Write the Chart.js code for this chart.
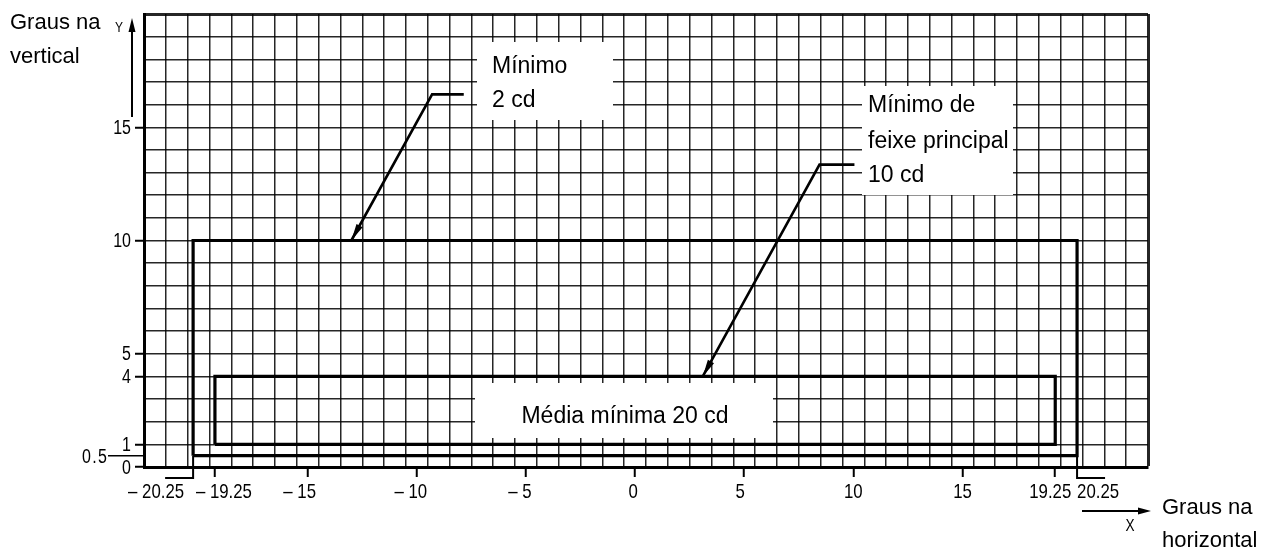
<!DOCTYPE html>
<html>
<head>
<meta charset="utf-8">
<script src="https://cdn.jsdelivr.net/npm/chart.js@4/dist/chart.umd.min.js"></script>
<style>
  html, body { margin: 0; padding: 0; background: #fff; }
  #wrap { width: 1275px; height: 549px; position: relative; }
</style>
</head>
<body>
<div id="wrap"><canvas id="chart"></canvas></div>
<script>
// axis ranges (degrees)
const xRange = [-22.5, 23.5];
const yRange = [0, 20];

// tick labels
const xTickValues = [-20.25, -19.25, -15, -10, -5, 0, 5, 10, 15, 19.25, 20.25];
const xTickLabels = ['– 20.25', '– 19.25', '– 15', '– 10', '– 5', '0', '5', '10', '15', '19.25', '20.25'];
const yTickValues = [0, 0.5, 1, 4, 5, 10, 15];
const yTickLabels = ['0', '0.5', '1', '4', '5', '10', '15'];

// zones: outer (min 2 cd) and inner (mean 20 cd)
const outerX = [-20.25, 20.25];
const outerY = [0.5, 10];
const innerX = [-19.25, 19.25];
const innerY = [1, 4];

// leader arrows (start, bend, tip)
const arrowMin2 = [[-7.85, 16.45], [-9.3, 16.45], [-13, 10]];
const arrowMin10 = [[10.05, 13.35], [8.45, 13.35], [3.1, 4]];

// text notes
const noteMin2 = ['Mínimo', '2 cd'];
const noteMin10 = ['Mínimo de', 'feixe principal', '10 cd'];
const noteMean = 'Média mínima 20 cd';
const yAxisName = ['Graus na', 'vertical'];
const xAxisName = ['Graus na', 'horizontal'];

// --- layout / style (not data) ---
const SANS = '"Liberation Sans", Arial, Helvetica, sans-serif';
const GRID = 'rgba(0,0,0,0.85)';
const xLabelShift = [-37, 9, -8, -6, -6, -2, -4, 0, 0, -5, 21];
const boxes = [
    { x: 477, y: 42, w: 136, h: 78, lines: noteMin2, tx: 492, ty: [73, 107] },
    { x: 862, y: 86, w: 151, h: 109, lines: noteMin10, tx: 868, ty: [112, 148, 182] },
    { x: 475, y: 383, w: 298, h: 55, lines: [noteMean], tx: 625, ty: [423], center: true }
];

const rectPoints = (xs, ys) => [
    { x: xs[0], y: ys[0] }, { x: xs[0], y: ys[1] }, { x: xs[1], y: ys[1] },
    { x: xs[1], y: ys[0] }, { x: xs[0], y: ys[0] }
];
const toPoints = arr => arr.map(p => ({ x: p[0], y: p[1] }));

function gridValues(from, to) {
    const out = [];
    for (let v = from; v <= to + 1e-9; v += 1) out.push(Math.round(v * 100) / 100);
    return out;
}
const xGrid = gridValues(xRange[0], xRange[1]);
const yGrid = gridValues(yRange[0], yRange[1]);

function arrowHead(ctx, fx, fy, tx, ty, len, half) {
    const a = Math.atan2(ty - fy, tx - fx);
    const bx = tx - len * Math.cos(a), by = ty - len * Math.sin(a);
    ctx.beginPath();
    ctx.moveTo(tx, ty);
    ctx.lineTo(bx - half * Math.sin(a), by + half * Math.cos(a));
    ctx.lineTo(bx + half * Math.sin(a), by - half * Math.cos(a));
    ctx.closePath();
    ctx.fill();
}

// narrow lettering like the original drawing
function narrowText(ctx, text, x, y, size, align) {
    ctx.save();
    ctx.translate(x, y);
    ctx.scale(0.8, 1);
    ctx.font = size + 'px ' + SANS;
    ctx.textAlign = align;
    ctx.fillText(text, 0, 0);
    ctx.restore();
}

const annotate = {
    id: 'annotate',
    beforeDatasetsDraw(chart) {
        const ctx = chart.ctx;
        ctx.save();
        ctx.fillStyle = '#fff';
        boxes.forEach(b => ctx.fillRect(b.x, b.y, b.w, b.h));
        ctx.restore();
    },
    afterDraw(chart) {
        const { ctx, scales: { x, y }, chartArea } = chart;
        ctx.save();
        ctx.fillStyle = '#000';
        ctx.strokeStyle = '#000';

        // arrowheads on the leader lines
        [2, 3].forEach(i => {
            const pts = chart.getDatasetMeta(i).data;
            const a = pts[pts.length - 2], b = pts[pts.length - 1];
            arrowHead(ctx, a.x, a.y, b.x, b.y, 17, 3.5);
        });

        // notes
        ctx.font = '23px ' + SANS;
        ctx.textBaseline = 'alphabetic';
        boxes.forEach(b => {
            ctx.textAlign = b.center ? 'center' : 'left';
            b.lines.forEach((t, i) => ctx.fillText(t, b.tx, b.ty[i]));
        });

        // x tick labels
        xTickValues.forEach((v, i) => {
            narrowText(ctx, xTickLabels[i], x.getPixelForValue(v) + xLabelShift[i], 498, 21, 'center');
        });

        // y tick labels
        ctx.textBaseline = 'middle';
        yTickValues.forEach((v, i) => {
            if (v === 0.5) {
                narrowText(ctx, yTickLabels[i].split('').join(String.fromCharCode(8202)), 107, y.getPixelForValue(v) + 2, 20, 'right');
            } else {
                narrowText(ctx, yTickLabels[i], 131, y.getPixelForValue(v) + 1, 20, 'right');
            }
        });
        ctx.textBaseline = 'alphabetic';

        // brackets at the outer zone limits
        ctx.lineWidth = 2;
        const yb = y.getPixelForValue(outerY[0]);
        outerX.forEach((v, i) => {
            const px = x.getPixelForValue(v);
            const dir = i === 0 ? -1 : 1;
            ctx.beginPath();
            ctx.moveTo(px, yb);
            ctx.lineTo(px, chartArea.bottom + 11);
            ctx.lineTo(px + dir * 28, chartArea.bottom + 11);
            ctx.stroke();
        });

        // 0.5 leader
        const y05 = y.getPixelForValue(0.5);
        ctx.lineWidth = 1.5;
        ctx.beginPath();
        ctx.moveTo(108, y05);
        ctx.lineTo(chartArea.left, y05);
        ctx.stroke();

        // axis names with arrows
        ctx.lineWidth = 2;
        ctx.beginPath();
        ctx.moveTo(132, 117);
        ctx.lineTo(132, 30);
        ctx.stroke();
        arrowHead(ctx, 132, 117, 132, 18, 14, 3.5);
        ctx.beginPath();
        ctx.moveTo(1082, 511);
        ctx.lineTo(1140, 511);
        ctx.stroke();
        arrowHead(ctx, 1082, 511, 1151, 511, 13, 3.5);

        narrowText(ctx, 'Y', 119, 32, 15, 'center');
        narrowText(ctx, 'X', 1130, 531, 17, 'center');

        ctx.font = '22px ' + SANS;
        ctx.textAlign = 'left';
        ctx.fillText(yAxisName[0], 10, 29);
        ctx.fillText(yAxisName[1], 10, 63);
        ctx.fillText(xAxisName[0], 1162, 514);
        ctx.fillText(xAxisName[1], 1162, 547);
        ctx.restore();
    }
};

const lineSet = (data, width) => ({
    data: data,
    showLine: true,
    borderColor: '#000',
    borderWidth: width,
    pointRadius: 0,
    tension: 0,
    fill: false
});

const ctx = document.getElementById('chart').getContext('2d');
new Chart(ctx, {
    type: 'scatter',
    data: {
        datasets: [
            lineSet(rectPoints(outerX, outerY), 3.2),
            lineSet(rectPoints(innerX, innerY), 3.2),
            lineSet(toPoints(arrowMin2), 2.6),
            lineSet(toPoints(arrowMin10), 2.6)
        ]
    },
    options: {
        responsive: true,
        maintainAspectRatio: false,
        animation: false,
        layout: { padding: { left: 0, top: 14, right: 127, bottom: 0 } },
        plugins: { legend: { display: false }, tooltip: { enabled: false } },
        scales: {
            x: {
                type: 'linear',
                min: xRange[0],
                max: xRange[1],
                afterBuildTicks: scale => {
                    const vals = [...xGrid, ...xTickValues].sort((a, b) => a - b);
                    scale.ticks = vals.map(v => ({ value: v }));
                },
                afterFit: scale => { scale.height = 82; },
                ticks: { display: false, autoSkip: false },
                border: { display: true, color: '#000', width: 3 },
                grid: {
                    drawTicks: true,
                    tickLength: 10,
                    color: c => xGrid.includes(c.tick.value) ? GRID : 'rgba(0,0,0,0)',
                    lineWidth: c => c.tick.value === xRange[1] ? 3 : 1.5,
                    tickColor: c => (xTickValues.includes(c.tick.value) && !outerX.includes(c.tick.value)) ? '#000' : 'rgba(0,0,0,0)',
                    tickWidth: 2
                }
            },
            y: {
                type: 'linear',
                min: yRange[0],
                max: yRange[1],
                afterBuildTicks: scale => {
                    const vals = [...new Set([...yGrid, ...yTickValues])].sort((a, b) => a - b);
                    scale.ticks = vals.map(v => ({ value: v }));
                },
                afterFit: scale => { scale.width = 144; },
                ticks: { display: false, autoSkip: false },
                border: { display: true, color: '#000', width: 3 },
                grid: {
                    drawTicks: true,
                    tickLength: 9,
                    color: c => Number.isInteger(c.tick.value) ? GRID : 'rgba(0,0,0,0)',
                    lineWidth: c => c.tick.value === yRange[1] ? 3 : 1.5,
                    tickColor: c => (yTickValues.includes(c.tick.value) && c.tick.value !== 0.5) ? '#000' : 'rgba(0,0,0,0)',
                    tickWidth: 2
                }
            }
        }
    },
    plugins: [annotate]
});
</script>
</body>
</html>
